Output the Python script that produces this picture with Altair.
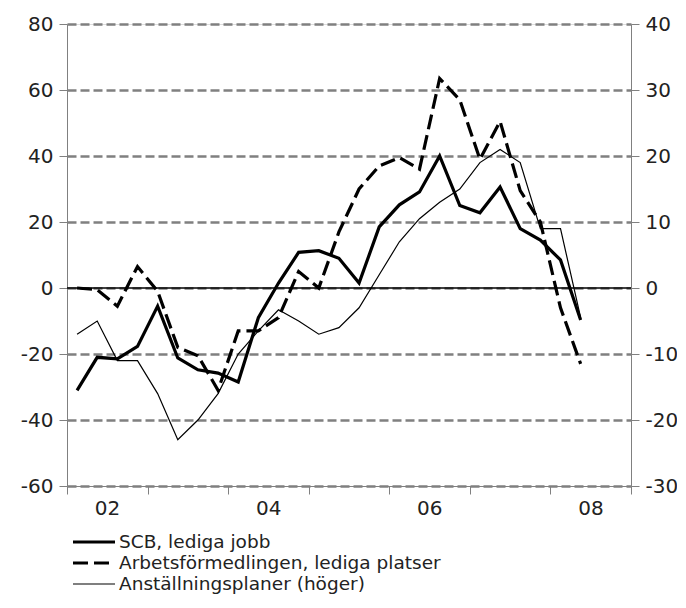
import altair as alt
import pandas as pd

# Quarterly observations 2002Q1 - 2008Q2
years = [2002]*4 + [2003]*4 + [2004]*4 + [2005]*4 + [2006]*4 + [2007]*4 + [2008]*2
quarters = [1, 2, 3, 4]*6 + [1, 2]

scb = [-31, -21, -21.5, -17.7, -5.5, -21.2, -24.8, -25.8, -28.5, -9, 1.5, 10.8, 11.3,
       9, 1.5, 18.5, 25.2, 29.1, 40, 25, 22.8, 30.6, 18, 14.5, 8.5, -9.7]
af = [0, -0.5, -5.5, 6.5, -1, -18, -20.5, -31, -13, -13, -9, 5, 0,
      17, 30, 37, 39.5, 36, 63.5, 57, 39, 50.5, 29.5, 20, -6, -23]
anst = [-7, -5, -11, -11, -16, -23, -20, -16, -10, -6.5, -3.3, -5, -7,
        -6, -3, 2, 7, 10.5, 13, 15, 19, 21, 19, 9, 9, -4.5]

names = ["SCB, lediga jobb", "Arbetsförmedlingen, lediga platser", "Anställningsplaner (höger)"]
zero_line = [0]

left_ticks = list(range(-60, 81, 20))
right_ticks = list(range(-30, 41, 10))
year_ticks = list(range(2002, 2010))

t = [y + (q - 0.5) / 4 for y, q in zip(years, quarters)]
scb_df = pd.DataFrame({"t": t, "value": scb})
af_df = pd.DataFrame({"t": t, "value": af})
anst_df = pd.DataFrame({"t": t, "right": anst})
zero_df = pd.DataFrame({"value": zero_line})

FONT = "DejaVu Sans"
GRAY = "#808080"
TXT = "#222222"

# line styles: (dash, width)
styles = [([1, 0], 3.2), ([15, 6], 3.2), ([1, 0], 1.2)]

x_enc = alt.X(
    "t:Q",
    scale=alt.Scale(domain=[2002, 2009], nice=False, zero=False),
    axis=alt.Axis(
        values=year_ticks,
        labelExpr="datum.value % 2 == 0 && datum.value < 2009 ? '0' + (datum.value - 2000) : ''",
        labelOffset=40,
        labelFlush=False,
        labelPadding=4,
        tickSize=8,
        grid=False,
        title=None,
        domainColor=GRAY,
        tickColor=GRAY,
        labelFontSize=20,
        labelFont=FONT,
        labelColor=TXT,
    ),
)

y_left = alt.Y(
    "value:Q",
    scale=alt.Scale(domain=[-60, 80], nice=False),
    axis=alt.Axis(
        values=left_ticks,
        labelExpr="datum.value + ''",
        orient="left",
        grid=True,
        gridDash=[9, 4],
        gridColor=GRAY,
        gridWidth=2.5,
        gridOpacity=1,
        tickSize=8,
        tickColor=GRAY,
        domainColor=GRAY,
        labelPadding=6,
        labelFontSize=20,
        labelFont=FONT,
        labelColor=TXT,
        title=None,
    ),
)

zero_rule = alt.Chart(zero_df).mark_rule(color="black", strokeWidth=1.5).encode(y=alt.Y("value:Q"))

scb_line = alt.Chart(scb_df).mark_line(
    color="black", strokeWidth=styles[0][1], strokeJoin="miter"
).encode(x=x_enc, y=y_left)

af_line = alt.Chart(af_df).mark_line(
    color="black", strokeWidth=styles[1][1], strokeDash=styles[1][0], strokeJoin="miter", strokeCap="butt"
).encode(x=x_enc, y=y_left)

left_layer = alt.layer(zero_rule, scb_line, af_line)

anst_line = alt.Chart(anst_df).mark_line(
    color="black", strokeWidth=styles[2][1], strokeJoin="miter"
).encode(
    x=x_enc,
    y=alt.Y(
        "right:Q",
        scale=alt.Scale(domain=[-30, 40], nice=False),
        axis=alt.Axis(
            values=right_ticks,
            labelExpr="datum.value + ''",
            orient="right",
            grid=False,
            tickSize=8,
            tickColor=GRAY,
            domainColor=GRAY,
            labelPadding=6,
            labelFontSize=20,
            labelFont=FONT,
            labelColor=TXT,
            title=None,
        ),
    ),
)

# legend below the plot area
legend_layers = []
for i, (name, (dash, w)) in enumerate(zip(names, styles)):
    ly = 518 + 21 * i
    legend_layers.append(
        alt.Chart(zero_df).mark_rule(color="black", strokeWidth=w, strokeDash=dash, strokeCap="butt").encode(
            x=alt.value(6), x2=alt.value(48), y=alt.value(ly)
        )
    )
    legend_layers.append(
        alt.Chart(zero_df).mark_text(
            align="left", baseline="middle", font=FONT, fontSize=18.5, color=TXT
        ).encode(x=alt.value(52), y=alt.value(ly), text=alt.value(name))
    )

chart = alt.layer(left_layer, anst_line, *legend_layers).resolve_scale(y="independent").properties(
    width=564,
    height=462,
    autosize=alt.AutoSizeParams(type="none"),
    padding={"left": 59, "top": 16, "right": 46, "bottom": 112},
).configure_view(stroke=None).configure(background="white")

chart.save("out.html", embed_options={"renderer": "svg", "actions": False})
